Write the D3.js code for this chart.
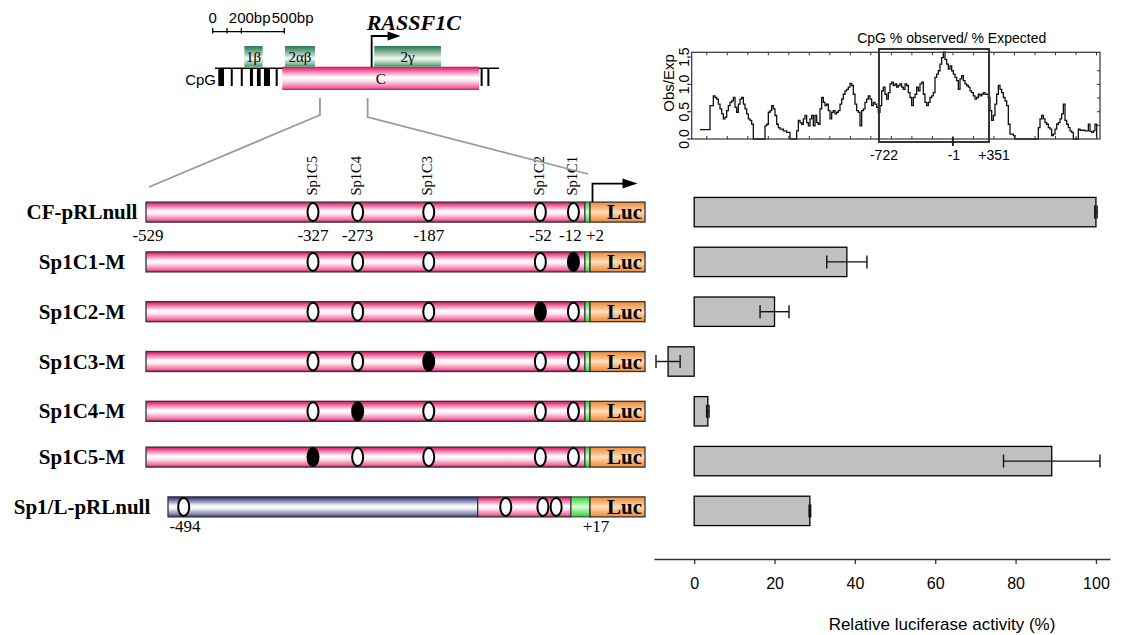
<!DOCTYPE html>
<html>
<head>
<meta charset="utf-8">
<script src="https://cdn.jsdelivr.net/npm/d3@7"></script>
<style>
  body { margin: 0; background: #fff; }
  .serif { font-family: "Liberation Serif", "Times New Roman", serif; }
  .sans { font-family: "Liberation Sans", Arial, sans-serif; }
</style>
</head>
<body>
<div id="chart"></div>
<script>
// ---- data: constructs & luciferase activity ----
const constructs = ["CF-pRLnull", "Sp1C1-M", "Sp1C2-M", "Sp1C3-M", "Sp1C4-M", "Sp1C5-M", "Sp1/L-pRLnull"];
const activity = [100, 38, 20, -6.5, 3.4, 89, 28.8];
const activityErr = [0.3, 5, 3.6, 3, 0.3, 12, 0.2];
const mutatedSite = [null, "Sp1C1", "Sp1C2", "Sp1C3", "Sp1C4", "Sp1C5", null];
const activityTicks = [0, 20, 40, 60, 80, 100];

// Sp1 sites in the CF promoter fragment (bp relative to TSS)
const sp1Sites = ["Sp1C5", "Sp1C4", "Sp1C3", "Sp1C2", "Sp1C1"];
const sp1Pos = [-327, -273, -187, -52, -12];
const cfRange = [-529, 2];
const cfPosTicks = [-529, -327, -273, -187, -52, -12, 2];
const cfPosLabels = ["-529", "-327", "-273", "-187", "-52", "-12", "+2"];

// Sp1/L construct
const sp1LRange = [-494, 17];
const sp1LBlue = [-494, -119];
const sp1LPink = [-119, -6];
const sp1LGreen = [-6, 17];
const sp1LSites = [-475, -85, -40, -24];

// ---- data: gene map (bp from scale-bar origin) ----
const scaleBarTicks = [0, 100, 200, 500];
const scaleBarLabels = [[0, "0"], [200, "200bp"], [500, "500bp"]];
const cpgLineExtent = [16, 2000];
const cpgSites = [[39, 79], [126, 140], [196, 210], [260, 281], [309, 335], [358, 400], [440, 454], [1871, 1885], [1918, 1932]];
const promoterBox = [486, 1860];
const exons = ["1β", "2αβ", "2γ"];
const exonStart = [221, 505, 1128];
const exonEnd = [349, 714, 1594];
const tssBp = 1110;
const zoomLinks = [749, 1082];

// ---- data: CpG obs/exp trace, sampled every 16.25 bp from -2467 ----
const cpgStartBp = -2467;
const cpgStepBp = 16.25;
const cpgObsExp = [
  0.17,0.17,0.17,0.17,0.17,0.17,
  0.61,0.61,0.79,0.76,0.73,0.64,0.55,0.46,0.37,0.40,0.52,0.61,0.67,0.70,0.76,0.58,0.49,0.64,0.73,0.76,0.64,0.55,0.46,0.37,0.34,0.27,
  0,0,0,0,0,0,0,
  0.24,0.27,0.49,0.52,0.61,0.55,0.43,0.27,0.21,0.18,0.18,0.15,0.15,0.12,0.12,
  0,0,0,0,
  0.15,0.34,0.30,0.27,0.37,0.43,0.30,0.24,0.37,0.43,0.24,0.43,0.30,0.27,0.55,0.76,0.67,0.61,0.64,0.52,
  0.37,0.49,0.52,0.46,0.49,0.52,0.64,0.73,0.82,0.88,0.91,0.95,1.02,0.98,0.82,0.64,0.52,0.49,0.24,0.52,
  0.55,0.67,0.73,0.79,0.73,0.61,0.67,0.64,0.58,0.49,0.61,0.88,0.95,0.82,0.73,0.85,
  1.01,1.04,0.98,1.01,0.95,0.98,1.01,0.95,0.91,1.01,0.98,0.85,0.76,0.61,0.76,0.82,0.95,0.88,1.01,1.04,
  0.82,0.67,0.61,0.67,0.76,0.79,0.85,1.13,1.19,1.25,1.37,1.49,1.59,1.46,1.37,1.28,1.34,1.25,1.19,1.13,
  1.07,0.91,1.10,1.16,1.07,1.01,0.98,0.95,0.88,0.85,0.79,0.73,0.76,0.82,0.79,0.82,0.85,0.82,0.82,0.76,
  0.52,0.34,0.43,0.64,0.82,0.98,0.91,0.85,0.76,0.70,0.61,0.27,0.09,0.09,0.06,
  0,0,0,0,0,0,0,0,0,0,0,0,0,0,
  0.21,0.37,0.43,0.37,0.30,0.27,0.21,0.18,0.06,0.09,0.18,0.27,0.30,0.37,0.46,0.64,0.34,0.27,0.21,0.15,0.12,
  0,0,0,
  0.18,0.16,0.16,0.16,0.15,0.15,0.27,0.14,0.12,0.15,0.27,
  0
];
const cpgYTicks = [0, 0.5, 1.0, 1.5];
const cpgIsland = [-722, 351];
const cpgIslandLabels = [[-722, "-722"], [-1, "-1"], [351, "+351"]];

// ---- setup ----
const width = 1121, height = 635;
const svg = d3.select("#chart").append("svg")
  .attr("width", width)
  .attr("height", height);
const defs = svg.append("defs");

function vGradient(id, stops) {
  const g = defs.append("linearGradient").attr("id", id)
    .attr("x1", 0).attr("y1", 0).attr("x2", 0).attr("y2", 1);
  stops.forEach(([o, c]) => g.append("stop").attr("offset", o).attr("stop-color", c));
}
vGradient("pink", [[0, "#c8145e"], [0.12, "#ec4a8d"], [0.45, "#ffffff"], [0.6, "#fde6ef"], [0.88, "#ef6fa3"], [1, "#c8226a"]]);
vGradient("blue", [[0, "#2a2a6a"], [0.12, "#5c5c98"], [0.45, "#ffffff"], [0.6, "#eeeef6"], [0.88, "#7a7aa8"], [1, "#3a3a78"]]);
vGradient("orange", [[0, "#ee8a35"], [0.3, "#f8b87c"], [0.5, "#fde0c2"], [0.75, "#f8b070"], [1, "#ee8a35"]]);
vGradient("green", [[0, "#30d030"], [0.5, "#d8ffd8"], [1, "#30d030"]]);
vGradient("exon", [[0, "#2c7a50"], [0.2, "#5f9f7b"], [0.6, "#f2f8f4"], [0.85, "#8fc0a3"], [1, "#3f8c60"]]);

// ---- bar chart ----
const yBand = d3.scaleBand().domain(constructs).range([177, 546]).padding(0.41);
const xBar = d3.scaleLinear().domain([-10, 103.5]).range([654, 1110]);

const bars = svg.append("g");
bars.selectAll("rect")
  .data(constructs)
  .join("rect")
  .attr("x", (d, i) => xBar(Math.min(0, activity[i])))
  .attr("width", (d, i) => Math.abs(xBar(activity[i]) - xBar(0)))
  .attr("y", d => yBand(d))
  .attr("height", yBand.bandwidth())
  .attr("fill", "#c0c0c0")
  .attr("stroke", "#000")
  .attr("stroke-width", 1.3);

const errG = bars.selectAll("g.err")
  .data(constructs)
  .join("g")
  .attr("class", "err")
  .attr("stroke", "#111")
  .attr("stroke-width", 1.4);
errG.append("line")
  .attr("x1", (d, i) => xBar(activity[i] - activityErr[i]))
  .attr("x2", (d, i) => xBar(activity[i] + activityErr[i]))
  .attr("y1", d => yBand(d) + yBand.bandwidth() / 2)
  .attr("y2", d => yBand(d) + yBand.bandwidth() / 2);
[-1, 1].forEach(s => {
  errG.append("line")
    .attr("x1", (d, i) => xBar(activity[i] + s * activityErr[i]))
    .attr("x2", (d, i) => xBar(activity[i] + s * activityErr[i]))
    .attr("y1", d => yBand(d) + yBand.bandwidth() / 2 - 6.5)
    .attr("y2", d => yBand(d) + yBand.bandwidth() / 2 + 6.5);
});

const xAxisG = svg.append("g")
  .attr("class", "sans")
  .attr("transform", "translate(0,559)")
  .call(d3.axisBottom(xBar).tickValues(activityTicks).tickSize(5).tickSizeOuter(0).tickPadding(14));
xAxisG.selectAll("text").style("font-size", "16px").attr("fill", "#000");
xAxisG.selectAll("line, path").attr("stroke", "#333").attr("stroke-width", 1.3);

svg.append("text")
  .attr("class", "sans")
  .attr("x", 942).attr("y", 630)
  .attr("text-anchor", "middle")
  .style("font-size", "17px")
  .text("Relative luciferase activity (%)");

// ---- constructs ----
const cf = d3.scaleLinear().domain(cfRange).range([146, 585]);
const sp1L = d3.scaleLinear().domain(sp1LRange).range([168, 590]);
const barH = 20;
const lucW = 55;

function oval(g, x, cy, filled) {
  g.append("ellipse")
    .attr("cx", x).attr("cy", cy)
    .attr("rx", 5.5).attr("ry", 9)
    .attr("fill", filled ? "#000" : "#fff")
    .attr("stroke", "#000").attr("stroke-width", 2);
}

function lucBox(g, x0, cy) {
  g.append("rect")
    .attr("x", x0).attr("y", cy - barH / 2)
    .attr("width", lucW).attr("height", barH)
    .attr("fill", "url(#orange)").attr("stroke", "#333").attr("stroke-width", 1.3);
  g.append("text")
    .attr("class", "serif")
    .attr("x", x0 + lucW - 3).attr("y", cy + 7)
    .attr("text-anchor", "end")
    .style("font-size", "21px").style("font-weight", "bold")
    .text("Luc");
}

constructs.forEach((name, i) => {
  const cy = yBand(name) + yBand.bandwidth() / 2 - (i >= 5 ? 4 : 0);
  const g = svg.append("g");

  g.append("text")
    .attr("class", "serif")
    .attr("x", 82).attr("y", cy + 7)
    .attr("text-anchor", "middle")
    .style("font-size", "21px").style("font-weight", "bold")
    .text(name);

  if (name !== "Sp1/L-pRLnull") {
    g.append("rect")
      .attr("x", cf(cfRange[0])).attr("y", cy - barH / 2)
      .attr("width", cf(cfRange[1]) - cf(cfRange[0])).attr("height", barH)
      .attr("fill", "url(#pink)").attr("stroke", "#333").attr("stroke-width", 1.3);
    g.append("rect")
      .attr("x", cf(cfRange[1])).attr("y", cy - barH / 2)
      .attr("width", 5).attr("height", barH)
      .attr("fill", "url(#green)").attr("stroke", "#333").attr("stroke-width", 1);
    lucBox(g, cf(cfRange[1]) + 5, cy);
    sp1Pos.forEach((p, k) => oval(g, cf(p), cy, sp1Sites[k] === mutatedSite[i]));
  } else {
    g.append("rect")
      .attr("x", sp1L(sp1LBlue[0])).attr("y", cy - barH / 2)
      .attr("width", sp1L(sp1LBlue[1]) - sp1L(sp1LBlue[0])).attr("height", barH)
      .attr("fill", "url(#blue)").attr("stroke", "#333").attr("stroke-width", 1.3);
    g.append("rect")
      .attr("x", sp1L(sp1LPink[0])).attr("y", cy - barH / 2)
      .attr("width", sp1L(sp1LPink[1]) - sp1L(sp1LPink[0])).attr("height", barH)
      .attr("fill", "url(#pink)").attr("stroke", "#333").attr("stroke-width", 1.3);
    g.append("rect")
      .attr("x", sp1L(sp1LGreen[0])).attr("y", cy - barH / 2)
      .attr("width", sp1L(sp1LGreen[1]) - sp1L(sp1LGreen[0])).attr("height", barH)
      .attr("fill", "url(#green)").attr("stroke", "#333").attr("stroke-width", 1);
    lucBox(g, sp1L(sp1LRange[1]), cy);
    sp1LSites.forEach(p => oval(g, sp1L(p), cy, false));
    g.append("text").attr("class", "serif")
      .attr("x", sp1L(sp1LRange[0]) + 17).attr("y", cy + 25)
      .attr("text-anchor", "middle").style("font-size", "17px").text("-494");
    g.append("text").attr("class", "serif")
      .attr("x", sp1L(sp1LRange[1]) + 6).attr("y", cy + 25)
      .attr("text-anchor", "middle").style("font-size", "17px").text("+17");
  }

  if (i === 0) {
    // position labels under the first construct
    cfPosTicks.forEach((p, k) => {
      let dx = 0;
      if (k === 0) dx = 2;
      if (k === 5) dx = -3;
      if (k === 6) dx = 10;
      g.append("text").attr("class", "serif")
        .attr("x", cf(p) + dx).attr("y", cy + 28.5)
        .attr("text-anchor", "middle").style("font-size", "17px")
        .text(cfPosLabels[k]);
    });
    // Sp1 site names, vertical
    sp1Pos.forEach((p, k) => {
      g.append("text").attr("class", "serif")
        .attr("transform", `translate(${cf(p) + 3.5},${cy - 16.5}) rotate(-90)`)
        .style("font-size", "14.5px")
        .text(sp1Sites[k]);
    });
    // transcription start arrow
    const ax = cf(cfRange[1]) + 7.5;
    g.append("path")
      .attr("d", `M${ax},${cy - barH / 2} V${cy - 28.5} H${ax + 32}`)
      .attr("fill", "none").attr("stroke", "#000").attr("stroke-width", 1.8);
    g.append("path")
      .attr("d", `M${ax + 30},${cy - 33.5} L${ax + 45},${cy - 28.5} L${ax + 30},${cy - 23.5} Z`)
      .attr("fill", "#000");
  }
});

// ---- gene map (top left) ----
const mapX = d3.scaleLinear().domain([0, 500]).range([212.7, 284.3]);
const map = svg.append("g");

// scale bar
map.append("line")
  .attr("x1", mapX(0)).attr("x2", mapX(500)).attr("y1", 31.7).attr("y2", 31.7)
  .attr("stroke", "#000").attr("stroke-width", 1.3);
map.selectAll("line.sbtick")
  .data(scaleBarTicks)
  .join("line")
  .attr("class", "sbtick")
  .attr("x1", d => mapX(d)).attr("x2", d => mapX(d))
  .attr("y1", 28).attr("y2", 33.5)
  .attr("stroke", "#000").attr("stroke-width", 1.3);
scaleBarLabels.forEach(([v, t]) => {
  map.append("text").attr("class", "sans")
    .attr("x", mapX(v)).attr("y", 23)
    .attr("dx", v === 0 ? "-0.28em" : "-0.834em")
    .style("font-size", "15px")
    .text(t);
});

// CpG backbone and sites
map.append("line")
  .attr("x1", mapX(cpgLineExtent[0])).attr("x2", mapX(cpgLineExtent[1]))
  .attr("y1", 68.3).attr("y2", 68.3)
  .attr("stroke", "#000").attr("stroke-width", 1.5);
map.selectAll("rect.cpg")
  .data(cpgSites)
  .join("rect")
  .attr("class", "cpg")
  .attr("x", d => mapX(d[0]))
  .attr("width", d => Math.max(2, mapX(d[1]) - mapX(d[0])))
  .attr("y", 68).attr("height", 18)
  .attr("fill", "#000");
map.append("text").attr("class", "sans")
  .attr("x", 216).attr("y", 85)
  .attr("text-anchor", "end")
  .style("font-size", "15px")
  .text("CpG");

// promoter C box
map.append("rect")
  .attr("x", mapX(promoterBox[0])).attr("y", 66.7)
  .attr("width", mapX(promoterBox[1]) - mapX(promoterBox[0])).attr("height", 23.3)
  .attr("fill", "url(#pink)");
map.append("text").attr("class", "serif")
  .attr("x", (mapX(promoterBox[0]) + mapX(promoterBox[1])) / 2).attr("y", 84)
  .attr("text-anchor", "middle").style("font-size", "15px")
  .text("C");

// exons
exons.forEach((e, k) => {
  map.append("rect")
    .attr("x", mapX(exonStart[k])).attr("y", 46)
    .attr("width", mapX(exonEnd[k]) - mapX(exonStart[k])).attr("height", 20.7)
    .attr("fill", "url(#exon)");
  map.append("text").attr("class", "serif")
    .attr("x", (mapX(exonStart[k]) + mapX(exonEnd[k])) / 2).attr("y", 62)
    .attr("text-anchor", "middle").style("font-size", "15px")
    .text(e);
});

// TSS arrow and gene name
map.append("path")
  .attr("d", `M${mapX(tssBp)},67 V36 H${mapX(tssBp) + 18}`)
  .attr("fill", "none").attr("stroke", "#000").attr("stroke-width", 1.8);
map.append("path")
  .attr("d", `M${mapX(tssBp) + 16},31.5 L${mapX(tssBp) + 29},36 L${mapX(tssBp) + 16},40.5 Z`)
  .attr("fill", "#000");
map.append("text").attr("class", "serif")
  .attr("x", 366.7).attr("y", 30)
  .style("font-size", "22px").style("font-weight", "bold").style("font-style", "italic")
  .text("RASSF1C");

// zoom connectors
map.append("path")
  .attr("d", `M${mapX(zoomLinks[0])},98 V115 L${cf(cfRange[0]) + 3},187`)
  .attr("fill", "none").attr("stroke", "#999").attr("stroke-width", 1.8);
map.append("path")
  .attr("d", `M${mapX(zoomLinks[1])},98 V117 L${cf(cfRange[1]) + 3},174`)
  .attr("fill", "none").attr("stroke", "#999").attr("stroke-width", 1.8);

// ---- CpG obs/exp plot (top right) ----
const cpgX = d3.scaleLinear().domain([-2548, 1433]).range([691.7, 1100]);
const cpgY = d3.scaleLinear().domain([0, 1.588]).range([139, 52.3]);
const plot = svg.append("g").attr("class", "sans");

plot.append("path")
  .datum(cpgObsExp)
  .attr("fill", "none")
  .attr("stroke", "#111")
  .attr("stroke-width", 1.3)
  .attr("d", d3.line()
    .x((d, i) => cpgX(cpgStartBp + i * cpgStepBp))
    .y(d => cpgY(d))
    .curve(d3.curveStepAfter));

plot.append("rect")
  .attr("x", cpgX.range()[0]).attr("y", cpgY.range()[1])
  .attr("width", cpgX.range()[1] - cpgX.range()[0])
  .attr("height", cpgY.range()[0] - cpgY.range()[1])
  .attr("fill", "none").attr("stroke", "#333").attr("stroke-width", 1.2);

// small frame ticks
const bpTicks = d3.range(-2401, 1433, 200);
[[cpgY.range()[0], -3], [cpgY.range()[1], 3]].forEach(([y, s]) => {
  plot.selectAll(null)
    .data(bpTicks)
    .join("line")
    .attr("x1", d => cpgX(d)).attr("x2", d => cpgX(d))
    .attr("y1", y).attr("y2", y + s)
    .attr("stroke", "#333");
});
plot.selectAll(null)
  .data(d3.range(0.25, 1.5, 0.25))
  .join("line")
  .attr("x1", cpgX.range()[1]).attr("x2", cpgX.range()[1] - 3)
  .attr("y1", d => cpgY(d)).attr("y2", d => cpgY(d))
  .attr("stroke", "#333");
plot.selectAll(null)
  .data(cpgYTicks)
  .join("line")
  .attr("x1", cpgX.range()[0]).attr("x2", cpgX.range()[0] - 3)
  .attr("y1", d => cpgY(d)).attr("y2", d => cpgY(d))
  .attr("stroke", "#333");
plot.selectAll(null)
  .data(cpgYTicks)
  .join("text")
  .attr("transform", d => `translate(689,${cpgY(d)}) rotate(-90)`)
  .attr("text-anchor", "middle")
  .style("font-size", "14px")
  .text(d => d3.format(".1f")(d));
plot.append("text")
  .attr("transform", "translate(674,83) rotate(-90)")
  .attr("text-anchor", "middle")
  .style("font-size", "15px")
  .text("Obs/Exp");

// CpG island window
plot.append("rect")
  .attr("x", cpgX(cpgIsland[0])).attr("y", 49)
  .attr("width", cpgX(cpgIsland[1]) - cpgX(cpgIsland[0])).attr("height", 93)
  .attr("fill", "none").attr("stroke", "#333").attr("stroke-width", 2);
plot.append("line")
  .attr("x1", cpgX(-1)).attr("x2", cpgX(-1)).attr("y1", 137).attr("y2", 146)
  .attr("stroke", "#222").attr("stroke-width", 2);
cpgIslandLabels.forEach(([v, t]) => {
  plot.append("text")
    .attr("x", cpgX(v) + (v === -1 ? 1 : 5)).attr("y", 160)
    .attr("text-anchor", "middle")
    .style("font-size", "14px")
    .text(t);
});
plot.append("text")
  .attr("x", 951.7).attr("y", 43)
  .attr("text-anchor", "middle")
  .style("font-size", "14px")
  .text("CpG % observed/ % Expected");
</script>
</body>
</html>
